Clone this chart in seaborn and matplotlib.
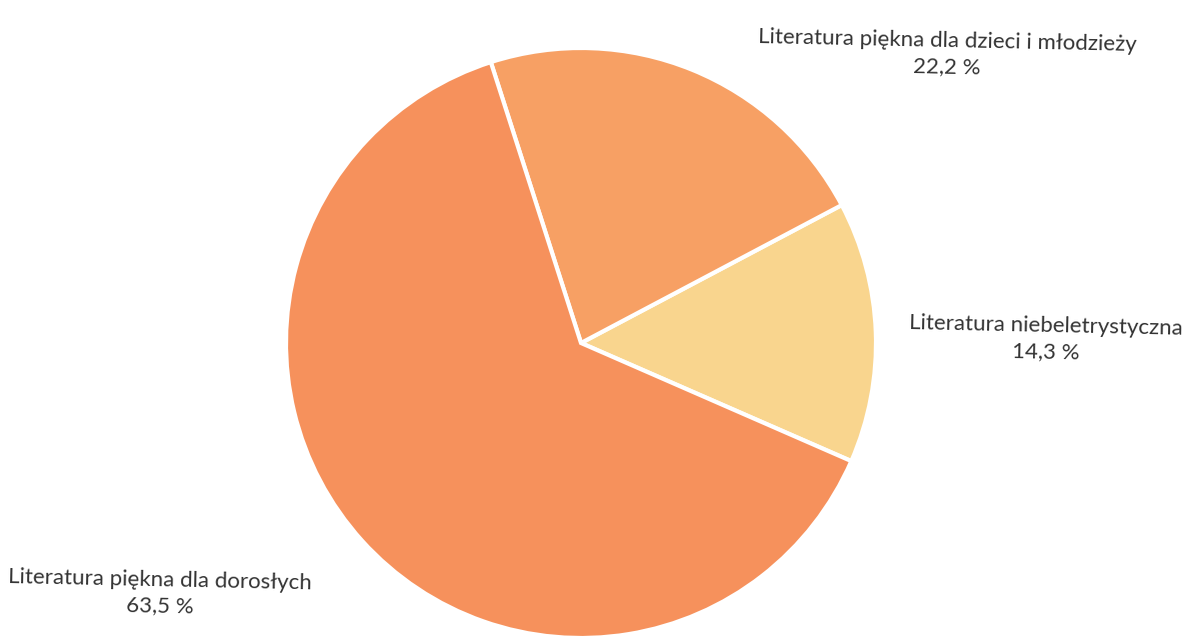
import matplotlib
matplotlib.use("Agg")
import matplotlib.pyplot as plt
import seaborn as sns

# Struktura tytułów wg rodzaju literatury
categories = [
    "Literatura niebeletrystyczna",
    "Literatura piękna dla dzieci i młodzieży",
    "Literatura piękna dla dorosłych",
]
shares = [14.3, 22.2, 63.5]
colors = ["#F9D58E", "#F7A064", "#F6915C"]

sns.set_theme(style="white")
plt.rcParams["font.family"] = ["Lato", "DejaVu Sans"]

fig = plt.figure(figsize=(11.83, 6.38), dpi=100)
ax = fig.add_axes([0, 0, 1, 1])

cx, cy, r = 581, 295, 295
wedges, _ = ax.pie(
    shares,
    colors=colors,
    startangle=-23.6,
    counterclock=True,
    center=(cx, cy),
    radius=r,
    wedgeprops=dict(edgecolor="white", linewidth=3),
)

ax.set_xlim(0, 1183)
ax.set_ylim(0, 638)
ax.set_aspect("equal")
ax.axis("off")

# label positions (pixel coords, y from bottom)
label_pos = [(1046, 299), (947, 584), (160, 45)]
for name, val, (x, y) in zip(categories, shares, label_pos):
    txt = f"{name}\n{val:.1f} %".replace(".", ",")
    ax.text(x, y, txt, ha="center", va="center", fontsize=16,
            color="#333333", linespacing=1.4, rotation=-1.2)

fig.savefig("out.png", dpi=100)
